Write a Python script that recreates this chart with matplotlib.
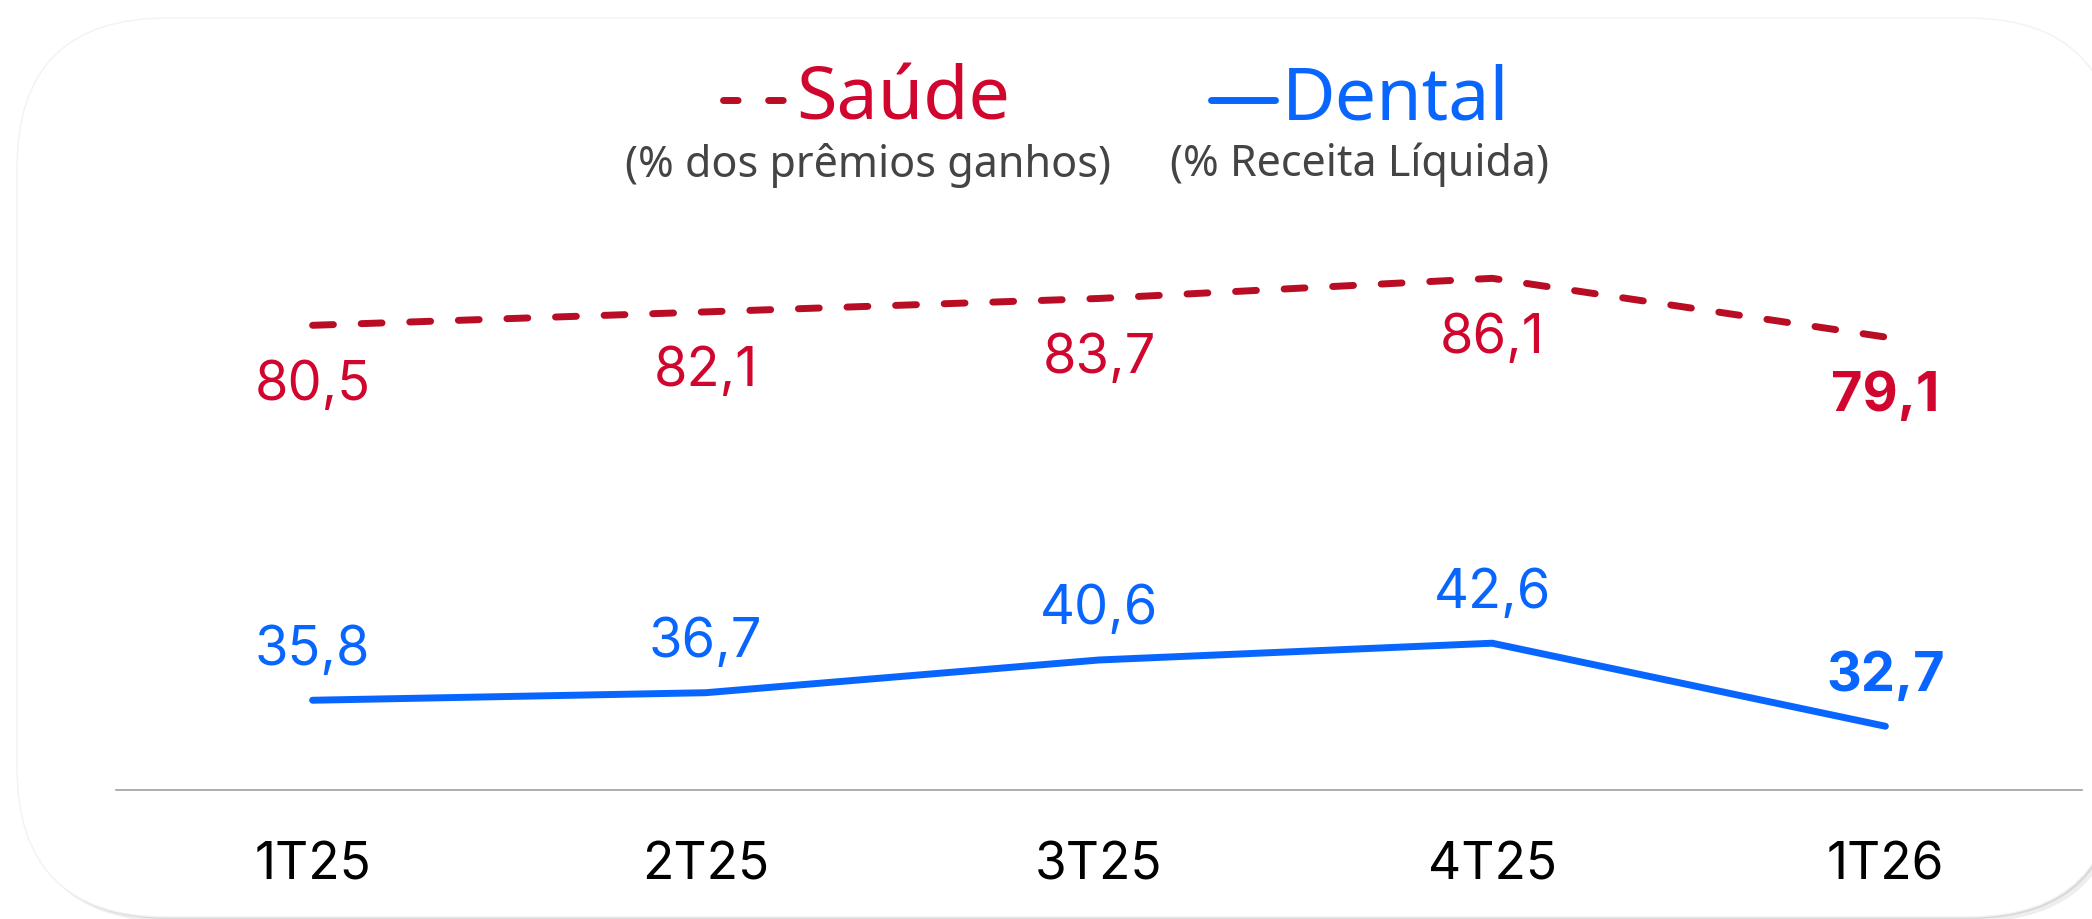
import matplotlib
matplotlib.use('Agg')
import matplotlib.pyplot as plt
from matplotlib.lines import Line2D
from matplotlib.patches import FancyBboxPatch

# data
quarters = ['1T25', '2T25', '3T25', '4T25', '1T26']
saude = [80.5, 82.1, 83.7, 86.1, 79.1]
dental = [35.8, 36.7, 40.6, 42.6, 32.7]
saude_labels = ['80,5', '82,1', '83,7', '86,1', '79,1']
dental_labels = ['35,8', '36,7', '40,6', '42,6', '32,7']

red_line = '#B80D24'
red_text = '#D0062E'
blue = '#0866FF'

W, H = 2092, 919
fig = plt.figure(figsize=(W / 100, H / 100), dpi=100)
fig.patch.set_facecolor('white')

# card background (pixel coordinates, y from bottom)
bg = fig.add_axes([0, 0, 1, 1], zorder=-5)
bg.set_xlim(0, W)
bg.set_ylim(0, H)
bg.axis('off')
x0, y0, x1, y1 = 17, 2, 2117, 901
for off, col in [(5, '#eeeeee'), (2, '#d8d8d8')]:
    bg.add_patch(FancyBboxPatch((x0 + off, y0 - off), x1 - x0, y1 - y0,
                                boxstyle='round,pad=0,rounding_size=150',
                                facecolor=col, edgecolor='none'))
bg.add_patch(FancyBboxPatch((x0, y0), x1 - x0, y1 - y0, boxstyle='round,pad=0,rounding_size=150',
                            facecolor='white', edgecolor='#f2f2f2', lw=1))

ax = fig.add_axes([116 / W, (919 - 790) / H, (2082 - 116) / W, (790 - 150) / H])
ax.set_facecolor('none')
x = range(len(quarters))

ax.plot(x, saude, color=red_line, lw=5, ls=(0, (3, 4)), dash_capstyle='round', solid_capstyle='round')
ax.plot(x, dental, color=blue, lw=5, solid_capstyle='round')

for i in x:
    w = 'bold' if i == len(quarters) - 1 else 'normal'
    ax.annotate(saude_labels[i], (i, saude[i]), xytext=(0, -43), textcoords='offset points',
                ha='center', va='center', color=red_text, fontsize=39, fontweight=w, family='Inter')
    ax.annotate(dental_labels[i], (i, dental[i]), xytext=(0, 36), textcoords='offset points',
                ha='center', va='center', color=blue, fontsize=39, fontweight=w, family='Inter')

ax.set_xlim(-0.5, 4.5)
ax.set_ylim(25.1, 101.4)
ax.set_xticks(list(x))
ax.set_xticklabels(quarters, fontsize=37, family='Inter', color='black')
ax.tick_params(axis='x', length=0, pad=37)
ax.set_yticks([])
for s in ['top', 'left', 'right']:
    ax.spines[s].set_visible(False)
ax.spines['bottom'].set_color('#a0a0a0')
ax.spines['bottom'].set_linewidth(1.2)

# legend
ly = 1 - 100 / H
fig.add_artist(Line2D([723 / W, 790 / W], [ly, ly], color=red_line, lw=5,
                      ls=(0, (2.1, 4.4)), dash_capstyle='round', transform=fig.transFigure))
fig.text(796 / W, ly, 'Saúde', color=red_text, fontsize=53, family='Noto Sans', va='center', ha='left')
fig.add_artist(Line2D([1211 / W, 1275 / W], [ly, ly], color=blue, lw=5,
                      solid_capstyle='round', transform=fig.transFigure))
fig.text(1282 / W, ly, 'Dental', color=blue, fontsize=53, family='Noto Sans', va='center', ha='left')

sy = 1 - 165 / H
fig.text(868 / W, sy, '(% dos prêmios ganhos)', color='#444444', fontsize=31, family='Noto Sans',
         va='center', ha='center')
fig.text(1360 / W, sy, '(% Receita Líquida)', color='#444444', fontsize=31, family='Noto Sans',
         va='center', ha='center')

fig.savefig('out.png', dpi=100, facecolor='white')
